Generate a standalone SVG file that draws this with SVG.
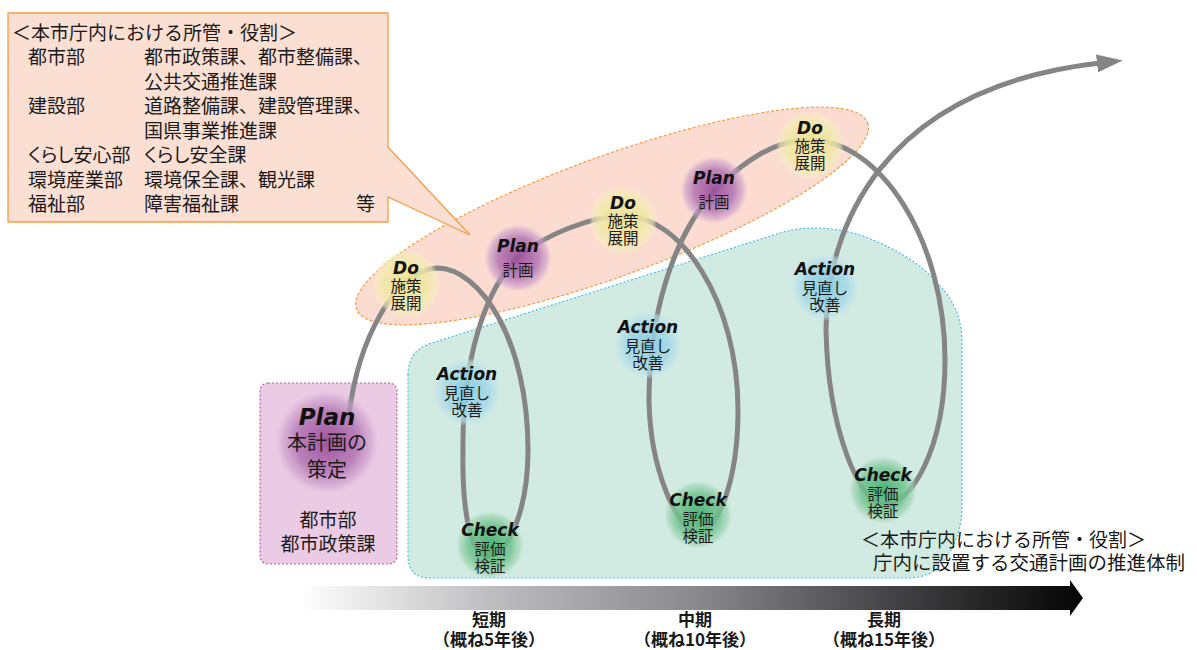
<svg xmlns="http://www.w3.org/2000/svg" width="1197" height="650" viewBox="0 0 1197 650">
<defs>
<style>
.jp{font-family:"Noto Sans CJK JP","Noto Sans CJK SC",sans-serif;fill:#1a1a1a}
.en{font-family:"DejaVu Sans",sans-serif;font-weight:bold;font-style:italic;fill:#111}
.nl{font-size:15.5px;text-anchor:middle}
.ne{font-size:17px;text-anchor:middle}
.cl{font-size:19px}
.pa{font-feature-settings:"palt"}
.tl{font-size:17px;font-weight:bold;text-anchor:middle}
.curve{fill:none;stroke:#858585;stroke-width:5;stroke-linecap:round}
</style>
<radialGradient id="gPlan">
<stop offset="0" stop-color="#9c4f9c" stop-opacity="0.95"/>
<stop offset="0.6" stop-color="#b275b3" stop-opacity="0.85"/>
<stop offset="0.85" stop-color="#cc9fcc" stop-opacity="0.6"/>
<stop offset="1" stop-color="#dcbcdc" stop-opacity="0"/>
</radialGradient>
<radialGradient id="gDo">
<stop offset="0" stop-color="#ece190" stop-opacity="0.95"/>
<stop offset="0.65" stop-color="#f1e9a6" stop-opacity="0.85"/>
<stop offset="0.88" stop-color="#f4edbd" stop-opacity="0.6"/>
<stop offset="1" stop-color="#f6f0c8" stop-opacity="0"/>
</radialGradient>
<radialGradient id="gAction">
<stop offset="0" stop-color="#86cbe0" stop-opacity="0.95"/>
<stop offset="0.65" stop-color="#a5d8e6" stop-opacity="0.85"/>
<stop offset="0.88" stop-color="#bde2ea" stop-opacity="0.6"/>
<stop offset="1" stop-color="#c8e6eb" stop-opacity="0"/>
</radialGradient>
<radialGradient id="gCheck">
<stop offset="0" stop-color="#45b070" stop-opacity="0.95"/>
<stop offset="0.65" stop-color="#74c492" stop-opacity="0.85"/>
<stop offset="0.88" stop-color="#9dd3b2" stop-opacity="0.6"/>
<stop offset="1" stop-color="#b0dbc3" stop-opacity="0"/>
</radialGradient>
<linearGradient id="gBar" x1="300" y1="0" x2="1072" y2="0" gradientUnits="userSpaceOnUse">
<stop offset="0" stop-color="#ffffff"/>
<stop offset="0.25" stop-color="#bdbdbf"/>
<stop offset="0.52" stop-color="#88888c"/>
<stop offset="0.76" stop-color="#454547"/>
<stop offset="1" stop-color="#080808"/>
</linearGradient>
<marker id="arr" markerUnits="userSpaceOnUse" markerWidth="26" markerHeight="18" viewBox="0 0 26 18" refX="3" refY="9" orient="auto">
<path d="M0,0 L26,9 L0,18 Z" fill="#858585"/>
</marker>
</defs>
<rect width="1197" height="650" fill="#ffffff"/>

<g id="areas">
<path id="greenArea" d="M408,375 Q408,350 432,343 L780,233 Q815,222 860,235 Q925,258 952,302 Q962,320 962,342 L962,505 Q962,545 935,570 Q925,578 905,578 L430,578 Q408,578 408,556 Z" fill="#d2ebe2" stroke="#45c0ea" stroke-width="1.2" stroke-dasharray="2 2"/>
<ellipse id="pinkArea" cx="612" cy="216" rx="272" ry="60" transform="rotate(-20 612 216)" fill="#fcdcd0" stroke="#f79a45" stroke-width="1.2" stroke-dasharray="3 2"/>
<rect id="purpleBox" x="260" y="383" width="137" height="181" rx="8" fill="#ebcae4" stroke="#b366b3" stroke-width="1.2" stroke-dasharray="2 2"/>
</g>

<g id="callout">
<path d="M8,13 H388 V147 L470,235 L388,197 V222 H8 Z" fill="#fcdfd3" stroke="#f59c45" stroke-width="1.3"/>
<text class="jp cl" x="12" y="40">＜本市庁内における所管・役割＞</text>
<text class="jp cl" x="28" y="64">都市部</text>
<text class="jp cl" x="144" y="64">都市政策課、都市整備課、</text>
<text class="jp cl" x="144" y="89">公共交通推進課</text>
<text class="jp cl" x="28" y="113">建設部</text>
<text class="jp cl" x="144" y="113">道路整備課、建設管理課、</text>
<text class="jp cl" x="144" y="138">国県事業推進課</text>
<text class="jp cl pa" x="28" y="162">くらし安心部</text>
<text class="jp cl pa" x="144" y="162">くらし安全課</text>
<text class="jp cl" x="28" y="187">環境産業部</text>
<text class="jp cl" x="144" y="187">環境保全課、観光課</text>
<text class="jp cl" x="28" y="211">福祉部</text>
<text class="jp cl" x="144" y="211">障害福祉課</text>
<text class="jp cl" x="356" y="211">等</text>
</g>

<g id="connectors">
<path class="curve" marker-end="url(#arr)" d="M349,415 C358,340 395,270 437,268 C480,268 528,340 528,450 C528,510 508,556 488,556 C468,556 462,500 463,450 C462,360 485,290 518,257 C545,235 590,216 625,216 C680,216 738,300 738,410 C738,480 718,532 698,532 C678,532 650,470 649,400 C649,320 670,240 715,190 C745,160 775,140 810,140 C880,140 945,240 945,360 C945,450 910,505 885,505 C860,505 828,430 826,330 C826,230 880,88 1100,63"/>
</g>

<g id="timeline">
<path d="M300,586 H1070 V580 L1083,598 L1070,616 V610 H300 Z" fill="url(#gBar)"/>
<text class="jp tl" x="489" y="626">短期</text>
<text class="jp tl" x="489" y="646">（概ね5年後）</text>
<text class="jp tl" x="695" y="626">中期</text>
<text class="jp tl" x="695" y="646">（概ね10年後）</text>
<text class="jp tl" x="884" y="626">長期</text>
<text class="jp tl" x="884" y="646">（概ね15年後）</text>
</g>

<g id="planMain">
<circle cx="327" cy="442" r="52" fill="url(#gPlan)"/>
<text class="en" x="327" y="425" font-size="23" text-anchor="middle">Plan</text>
<text class="jp" x="327" y="450" font-size="20" text-anchor="middle">本計画の</text>
<text class="jp" x="327" y="477" font-size="20" text-anchor="middle">策定</text>
</g>
<g id="planOwner">
<text class="jp" x="328" y="527" font-size="19" text-anchor="middle">都市部</text>
<text class="jp" x="328" y="551" font-size="19" text-anchor="middle">都市政策課</text>
</g>

<g id="do1">
<circle cx="406" cy="284" r="34" fill="url(#gDo)"/>
<text class="en ne" x="406" y="274">Do</text>
<text class="jp nl" x="406" y="292">施策</text>
<text class="jp nl" x="406" y="309">展開</text>
</g>
<g id="plan2">
<circle cx="518" cy="258" r="34" fill="url(#gPlan)"/>
<text class="en ne" x="518" y="252">Plan</text>
<text class="jp nl" x="518" y="276">計画</text>
</g>
<g id="do2">
<circle cx="623" cy="220" r="34" fill="url(#gDo)"/>
<text class="en ne" x="623" y="209">Do</text>
<text class="jp nl" x="623" y="227">施策</text>
<text class="jp nl" x="623" y="244">展開</text>
</g>
<g id="plan3">
<circle cx="714" cy="190" r="34" fill="url(#gPlan)"/>
<text class="en ne" x="714" y="184">Plan</text>
<text class="jp nl" x="714" y="208">計画</text>
</g>
<g id="do3">
<circle cx="810" cy="145" r="34" fill="url(#gDo)"/>
<text class="en ne" x="810" y="134">Do</text>
<text class="jp nl" x="810" y="152">施策</text>
<text class="jp nl" x="810" y="169">展開</text>
</g>

<g id="action1">
<circle cx="467" cy="392" r="34" fill="url(#gAction)"/>
<text class="en ne" x="467" y="380">Action</text>
<text class="jp nl" x="467" y="399">見直し</text>
<text class="jp nl" x="467" y="416">改善</text>
</g>
<g id="check1">
<circle cx="490" cy="545" r="34" fill="url(#gCheck)"/>
<text class="en ne" x="490" y="536">Check</text>
<text class="jp nl" x="490" y="555">評価</text>
<text class="jp nl" x="490" y="572">検証</text>
</g>
<g id="action2">
<circle cx="648" cy="345" r="34" fill="url(#gAction)"/>
<text class="en ne" x="648" y="333">Action</text>
<text class="jp nl" x="648" y="352">見直し</text>
<text class="jp nl" x="648" y="369">改善</text>
</g>
<g id="check2">
<circle cx="698" cy="515" r="34" fill="url(#gCheck)"/>
<text class="en ne" x="698" y="506">Check</text>
<text class="jp nl" x="698" y="525">評価</text>
<text class="jp nl" x="698" y="542">検証</text>
</g>
<g id="action3">
<circle cx="825" cy="287" r="34" fill="url(#gAction)"/>
<text class="en ne" x="825" y="275">Action</text>
<text class="jp nl" x="825" y="294">見直し</text>
<text class="jp nl" x="825" y="311">改善</text>
</g>
<g id="check3">
<circle cx="883" cy="490" r="34" fill="url(#gCheck)"/>
<text class="en ne" x="883" y="481">Check</text>
<text class="jp nl" x="883" y="500">評価</text>
<text class="jp nl" x="883" y="517">検証</text>
</g>

<g id="systemNote">
<text class="jp" x="861" y="547" font-size="19">＜本市庁内における所管・役割＞</text>
<text class="jp" x="873" y="570" font-size="19.5">庁内に設置する交通計画の推進体制</text>
</g>
</svg>
